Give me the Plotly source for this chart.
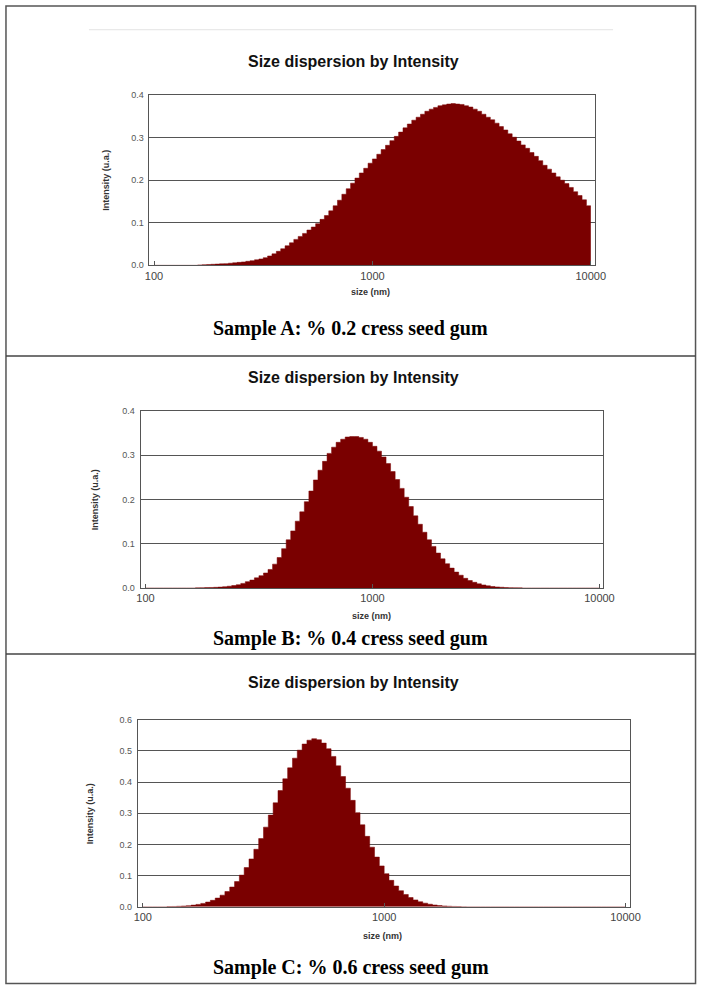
import plotly.graph_objects as go

# ---------------- data ----------------
# bin edges (nm) of the size distribution, 100 log-spaced bins from 100 to 10000 nm
size_edges_nm = [
    100.0, 104.7, 109.6, 114.8, 120.2, 125.9, 131.8, 138.0, 144.5, 151.4,
    158.5, 166.0, 173.8, 182.0, 190.5, 199.5, 208.9, 218.8, 229.1, 239.9,
    251.2, 263.0, 275.4, 288.4, 302.0, 316.2, 331.1, 346.7, 363.1, 380.2,
    398.1, 416.9, 436.5, 457.1, 478.6, 501.2, 524.8, 549.5, 575.4, 602.6,
    631.0, 660.7, 691.8, 724.4, 758.6, 794.3, 831.8, 871.0, 912.0, 955.0,
    1000, 1047, 1096, 1148, 1202, 1259, 1318, 1380, 1445, 1514,
    1585, 1660, 1738, 1820, 1905, 1995, 2089, 2188, 2291, 2399,
    2512, 2630, 2754, 2884, 3020, 3162, 3311, 3467, 3631, 3802,
    3981, 4169, 4365, 4571, 4786, 5012, 5248, 5495, 5754, 6026,
    6310, 6607, 6918, 7244, 7586, 7943, 8318, 8710, 9120, 9550,
    10000,
]

intensity_A = [
    0, 0, 0, 0, 0, 0, 0, 0, 0, 0,
    0.001, 0.0015, 0.002, 0.0025, 0.003, 0.0035, 0.004, 0.005, 0.006, 0.007,
    0.008, 0.0095, 0.011, 0.013, 0.015, 0.018, 0.022, 0.027, 0.033, 0.039,
    0.046, 0.053, 0.061, 0.068, 0.075, 0.083, 0.090, 0.098, 0.108, 0.117,
    0.128, 0.140, 0.153, 0.167, 0.180, 0.193, 0.205, 0.217, 0.228, 0.240,
    0.250, 0.261, 0.272, 0.282, 0.293, 0.303, 0.313, 0.323, 0.332, 0.341,
    0.348, 0.355, 0.362, 0.367, 0.371, 0.375, 0.377, 0.379, 0.380, 0.379,
    0.378, 0.375, 0.372, 0.367, 0.362, 0.355, 0.348, 0.342, 0.334, 0.326,
    0.318, 0.309, 0.301, 0.292, 0.283, 0.275, 0.265, 0.256, 0.246, 0.235,
    0.226, 0.217, 0.208, 0.200, 0.192, 0.183, 0.173, 0.164, 0.154, 0.140,
]

intensity_B = [
    0, 0, 0, 0, 0, 0, 0, 0, 0, 0,
    0, 0.0005, 0.0007, 0.001, 0.0013, 0.0017, 0.0022, 0.003, 0.0042, 0.0057,
    0.0075, 0.0105, 0.0145, 0.018, 0.023, 0.028, 0.034, 0.042, 0.054, 0.069,
    0.089, 0.109, 0.129, 0.151, 0.172, 0.195, 0.219, 0.244, 0.266, 0.286,
    0.304, 0.318, 0.329, 0.336, 0.341, 0.342, 0.342, 0.340, 0.336, 0.329,
    0.320, 0.309, 0.296, 0.281, 0.263, 0.245, 0.225, 0.205, 0.184, 0.163,
    0.144, 0.126, 0.109, 0.094, 0.079, 0.066, 0.055, 0.045, 0.036, 0.029,
    0.022, 0.017, 0.013, 0.0095, 0.007, 0.005, 0.0035, 0.0025, 0.0018, 0.0012,
    0.0009, 0.0006, 0.0004, 0, 0, 0, 0, 0, 0, 0,
    0, 0, 0, 0, 0, 0, 0, 0, 0, 0,
]

intensity_C = [
    0, 0, 0, 0, 0, 0.0008, 0.0011, 0.0017, 0.0025, 0.0037,
    0.0054, 0.0077, 0.0109, 0.0152, 0.0208, 0.028, 0.0373, 0.049, 0.0634, 0.0809,
    0.1016, 0.1258, 0.1534, 0.1845, 0.2188, 0.2555, 0.2941, 0.3335, 0.3727, 0.4105,
    0.4456, 0.4767, 0.5024, 0.5219, 0.5343, 0.539, 0.5359, 0.525, 0.5069, 0.4822,
    0.4522, 0.4178, 0.3804, 0.3414, 0.3019, 0.2631, 0.2259, 0.1912, 0.1595, 0.1311,
    0.1062, 0.0848, 0.0667, 0.0517, 0.0395, 0.0297, 0.0221, 0.0162, 0.0117, 0.0083,
    0.0058, 0.004, 0.0027, 0.0018, 0.0012, 0.0008, 0.0005, 0, 0, 0,
    0, 0, 0, 0, 0, 0, 0, 0, 0, 0,
    0, 0, 0, 0, 0, 0, 0, 0, 0, 0,
    0, 0, 0, 0, 0, 0, 0, 0, 0, 0,
]

x_tick_values = [100, 1000, 10000]
x_tick_labels = ["100", "1000", "10000"]
y_max = [0.4, 0.4, 0.6]
chart_title = "Size dispersion by Intensity"
captions = ["Sample A: % 0.2 cress seed gum",
            "Sample B: % 0.4 cress seed gum",
            "Sample C: % 0.6 cress seed gum"]
x_title = "size (nm)"
y_title = "Intensity (u.a.)"

# ---------------- layout helpers ----------------
W, H = 709, 990
def px(x):
    return x / W
def py(y):
    return 1 - y / H

BAR = "#7a0000"
AX = "#555555"

# panel geometry in pixels: (left, right, top, bottom)
panels = [
    (148, 604, 91, 263),
    (139, 613, 410, 589),
    (136, 640, 722, 911),
]
title_y = [57, 376, 684]
caption_y = [327, 640, 972]
ytitle_x = [104, 93, 87]
xtitle = [(374, 290), (376, 617), (387, 940)]

fig = go.Figure()
series = [intensity_A, intensity_B, intensity_C]
layout = dict(
    width=W, height=H,
    margin=dict(l=0, r=0, t=0, b=0),
    paper_bgcolor="white", plot_bgcolor="white",
    showlegend=False,
    annotations=[], shapes=[],
)

for k, (vals, (l, r, t, b)) in enumerate(zip(series, panels)):
    xa = "x" if k == 0 else f"x{k+1}"
    ya = "y" if k == 0 else f"y{k+1}"
    fig.add_trace(go.Scatter(
        x=size_edges_nm, y=vals + [vals[-1]],
        mode="lines", line=dict(shape="hv", color=BAR, width=0.5),
        fill="tozeroy", fillcolor=BAR,
        xaxis=xa, yaxis=ya, hoverinfo="skip",
    ))
    xname = "xaxis" if k == 0 else f"xaxis{k+1}"
    yname = "yaxis" if k == 0 else f"yaxis{k+1}"
    layout[xname] = dict(
        domain=[px(l), px(r)], anchor=ya, type="log",
        range=[1.979, 4.017],
        tickmode="array", tickvals=x_tick_values, ticktext=x_tick_labels,
        showgrid=False, zeroline=False,
        showline=True, linecolor=AX, linewidth=1, mirror=True,
        ticks="inside", ticklen=4, tickcolor=AX,
        tickfont=dict(family="Liberation Sans", size=11, color="#444444"),
    )
    layout[yname] = dict(
        domain=[py(b), py(t)], anchor=xa,
        range=[0, y_max[k]], dtick=0.1, tick0=0, tickformat=".1f",
        showgrid=True, gridcolor=AX, gridwidth=1, zeroline=False,
        showline=True, linecolor=AX, linewidth=1, mirror=True,
        ticks="", ticklabelstandoff=3,
        tickfont=dict(family="Liberation Sans", size=9, color="#555555"),
    )
    layout["annotations"] += [
        dict(text=chart_title, x=px(357), y=py(title_y[k]), xref="paper", yref="paper",
             showarrow=False, xanchor="center", yanchor="middle",
             font=dict(family="Liberation Sans", size=16, color="#111111", weight="bold")),
        dict(text=captions[k], x=px(354), y=py(caption_y[k]), xref="paper", yref="paper",
             showarrow=False, xanchor="center", yanchor="middle",
             font=dict(family="Liberation Serif", size=20, color="#000000", weight="bold")),
        dict(text=y_title, x=px(ytitle_x[k]), y=py((t + b) / 2), xref="paper", yref="paper",
             showarrow=False, xanchor="center", yanchor="middle", textangle=-90,
             font=dict(family="Liberation Sans", size=9, color="#333333", weight="bold")),
        dict(text=x_title, x=px(xtitle[k][0]), y=py(xtitle[k][1]), xref="paper", yref="paper",
             showarrow=False, xanchor="center", yanchor="middle",
             font=dict(family="Liberation Sans", size=9, color="#333333", weight="bold")),
    ]

# frame, panel dividers and faint top rule
layout["shapes"] += [
    dict(type="rect", xref="paper", yref="paper", x0=px(1), x1=px(707.5), y0=py(988.5), y1=py(1),
         line=dict(color="#555555", width=1.5), fillcolor="rgba(0,0,0,0)"),
    dict(type="line", xref="paper", yref="paper", x0=px(1), x1=px(707.5), y0=py(354.5), y1=py(354.5),
         line=dict(color="#444444", width=1.5)),
    dict(type="line", xref="paper", yref="paper", x0=px(1), x1=px(707.5), y0=py(655.5), y1=py(655.5),
         line=dict(color="#444444", width=1.5)),
    dict(type="line", xref="paper", yref="paper", x0=px(86), x1=px(623), y0=py(25), y1=py(25),
         line=dict(color="#e3e3e3", width=1)),
]

fig.update_layout(**layout)
fig.write_html("out.html")
